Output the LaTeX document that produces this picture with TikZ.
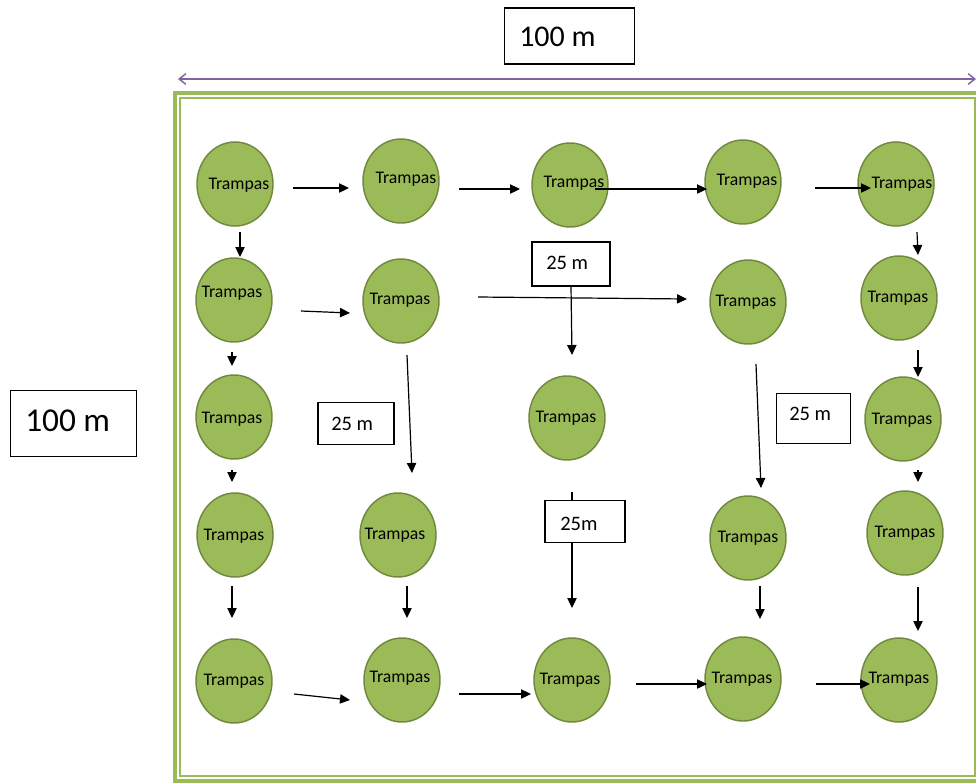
\documentclass[tikz,border=0pt]{standalone}
\usepackage{fontspec}
\setmainfont{Carlito}
\usetikzlibrary{arrows.meta,shapes.geometric}
\definecolor{trapfill}{HTML}{9BBB59}
\definecolor{trapline}{HTML}{71893F}
\definecolor{framegreen}{HTML}{9BBB59}
\definecolor{dimpurple}{HTML}{8064A2}
\begin{document}
\begin{tikzpicture}[x=0.75pt,y=-0.75pt,
  trap/.style={ellipse,draw=trapline,fill=trapfill,line width=1.1pt,minimum width=57pt,minimum height=63pt,inner sep=0pt},
  trtext/.style={font=\fontsize{13.3}{15}\selectfont,inner sep=0pt},
  arr/.style={-{Triangle[length=7.5pt,width=7pt]},line width=0.9pt},
  dimbox/.style={draw,line width=0.9pt,fill=white,inner sep=0pt},
  bigtext/.style={font=\fontsize{22.5}{26}\selectfont,inner sep=0pt,anchor=west},
  midtext/.style={font=\fontsize{15.4}{18}\selectfont,inner sep=0pt,anchor=west}]
\useasboundingbox (0,0) rectangle (976,783);
\fill[white] (0,0) rectangle (976,783);
% frame
\draw[framegreen,line width=3pt] (175,92.5) rectangle (980,780.5);
\draw[framegreen,line width=1.5pt] (180,98) rectangle (974.5,776);
% top dimension
\coordinate (dimL) at (178,79);
\coordinate (dimR) at (976,79);
\draw[dimpurple,line width=1.1pt,{Straight Barb[length=5pt,width=8pt]}-{Straight Barb[length=5pt,width=8pt]}] (dimL) -- (dimR);
\node[dimbox,minimum width=98pt,minimum height=42pt] (boxTop) at (569.5,36) {};
\node[bigtext] (txtTop) at (519,37) {100 m};
\node[dimbox,minimum width=95pt,minimum height=49pt] (boxLeft) at (73.5,423.5) {};
\node[bigtext,font=\fontsize{25}{29}\selectfont] (txtLeft) at (25,421) {100 m};
% circles
\foreach \n/\cx/\cy/\tx/\ty in {
  c11/235/184/239/185, c12/401/181/406/179, c13/570/185/574/183, c14/743/182/747/181, c15/896/184/902/184,
  c21/234/300/232/293, c22/401/301/400/300, c23/748/302/746/302, c24/899/298/898/298,
  c31/234/417/232/419, c32/567/418/566/418, c33/903/419/902/420,
  c41/235/535/234/536, c42/398/535/395/535, c43/748/538/748/538, c44/905/533/905/533,
  c51/234/681/234/681, c52/402/680/400/678, c53/572/680/570/680, c54/743/679/742/679, c55/899/680/899/679} {
  \node[trap] (\n) at (\cx,\cy) {};
  \node[trtext] (\n t) at (\tx,\ty) {Trampas};
}
% 25 m boxes
\node[dimbox,minimum width=58.5pt,minimum height=33pt] (bA) at (571,264) {};
\node[midtext] (tA) at (546,263) {25 m};
\node[dimbox,minimum width=57pt,minimum height=31pt] (bB) at (356,423.5) {};
\node[midtext] (tB) at (331,424) {25 m};
\node[dimbox,minimum width=55pt,minimum height=38pt] (bC) at (813.5,418.5) {};
\node[midtext] (tC) at (789,414) {25 m};
\node[dimbox,minimum width=60pt,minimum height=32pt] (bD) at (585,521.5) {};
\node[midtext] (tD) at (560,524) {25m};
% arrow coordinates
\foreach \n/\x/\y in {
  r1a/293/188, r1b/349/188, r1c/459/189, r1d/520/189, r1e/595/189, r1f/707/189, r1g/815/188, r1h/871/188,
  k1a/240/232, k1b/240/257, k1c/232/352, k1d/232/366, k1e/232/470, k1f/232/482, k1g/232/586, k1h/232/618,
  r2a/301/311, r2b/350/313, r2c/478/297, r2d/687/299,
  mA/572/286, mAb/572/355,
  k2a/407/355, k2b/412/473,
  k4a/756/364, k4b/761/488,
  k5a/917/232, k5b/918/255, k5c/918/350, k5d/918/377, k5e/918/470, k5f/918/482, k5g/918/587, k5h/918/631,
  mDt/572/492, mDb/572/608,
  k2c/407/586, k2d/407/618, k4c/760/586, k4d/760/619,
  r5a/294/694, r5b/350/700, r5c/459/694, r5d/531/694, r5e/636/684, r5f/707/684, r5g/816/684, r5h/870/684} {
  \coordinate (\n) at (\x,\y);
}
\draw[arr] (r1a) -- (r1b);
\draw[arr] (r1c) -- (r1d);
\draw[arr] (r1e) -- (r1f);
\draw[arr] (r1g) -- (r1h);
\draw[arr] (k1a) -- (k1b);
\draw[arr] (k1c) -- (k1d);
\draw[arr] (k1e) -- (k1f);
\draw[arr] (k1g) -- (k1h);
\draw[arr] (r2a) -- (r2b);
\draw[arr] (r2c) -- (r2d);
\draw[arr] (bA.south) -- (mAb);
\draw[arr] (k2a) -- (k2b);
\draw[arr] (k4a) -- (k4b);
\draw[arr] (k5a) -- (k5b);
\draw[arr] (k5c) -- (k5d);
\draw[arr] (k5e) -- (k5f);
\draw[arr] (k5g) -- (k5h);
\draw[line width=0.9pt] (mDt) -- (mDt |- bD.north);
\draw[arr] (mDt |- bD.south) -- (mDb);
\draw[arr] (k2c) -- (k2d);
\draw[arr] (k4c) -- (k4d);
\draw[arr] (r5a) -- (r5b);
\draw[arr] (r5c) -- (r5d);
\draw[arr] (r5e) -- (r5f);
\draw[arr] (r5g) -- (r5h);
\end{tikzpicture}
\end{document}
